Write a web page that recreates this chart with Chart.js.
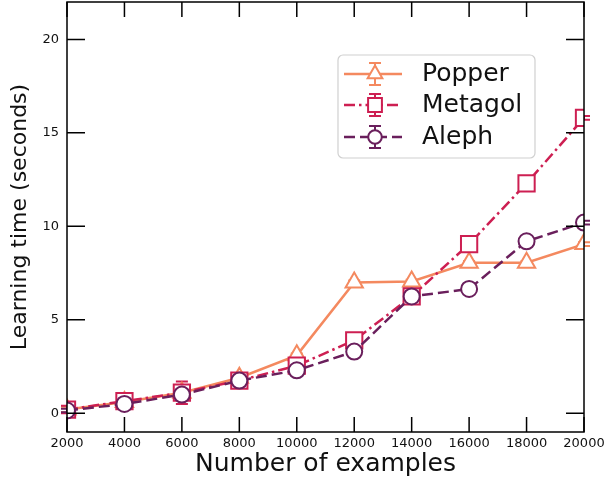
<!DOCTYPE html>
<html>
<head>
<meta charset="utf-8">
<script src="https://cdn.jsdelivr.net/npm/chart.js@4.4.1/dist/chart.umd.min.js"></script>
<style>
  html, body { margin: 0; padding: 0; background: #fff; }
  canvas { display: block; }
</style>
</head>
<body>
<canvas id="chart" width="607" height="479"></canvas>
<script>
// data
const examples = [2000, 4000, 6000, 8000, 10000, 12000, 14000, 16000, 18000, 20000];
const popperTime = [0.2, 0.6, 1.1, 1.9, 3.1, 7.0, 7.05, 8.05, 8.05, 9.05];
const metagolTime = [0.2, 0.65, 1.1, 1.75, 2.55, 3.9, 6.25, 9.05, 12.3, 15.8];
const alephTime = [0.15, 0.5, 1.0, 1.75, 2.3, 3.3, 6.25, 6.65, 9.2, 10.2];
const popperErr = [0.15, 0.1, 0.15, 0.1, 0.1, 0.1, 0.1, 0.1, 0.1, 0.1];
const metagolErr = [0.2, 0.2, 0.6, 0.15, 0.1, 0.1, 0.1, 0.1, 0.1, 0.1];
const alephErr = [0.1, 0.1, 0.1, 0.1, 0.1, 0.1, 0.1, 0.1, 0.1, 0.1];
const yTicks = [0, 5, 10, 15, 20];

const FONT = "'DejaVu Sans', sans-serif";

const series = [
  { label: 'Popper', y: popperTime, err: popperErr, color: '#f4895f', style: 'triangle', r: 10, dash: [], order: 3 },
  { label: 'Metagol', y: metagolTime, err: metagolErr, color: '#cd1f52', style: 'rect', r: 11.5, dash: [11, 4, 2.5, 4], order: 2 },
  { label: 'Aleph', y: alephTime, err: alephErr, color: '#6a1f5c', style: 'circle', r: 8, dash: [11, 5], order: 1 }
];

function marker(ctx, style, x, y, r) {
  ctx.beginPath();
  if (style === 'circle') {
    ctx.arc(x, y, r, 0, Math.PI * 2);
  } else if (style === 'rect') {
    const s = Math.SQRT1_2 * r;
    ctx.rect(x - s, y - s, 2 * s, 2 * s);
  } else {
    ctx.moveTo(x, y - r);
    ctx.lineTo(x + r * 0.866, y + r * 0.5);
    ctx.lineTo(x - r * 0.866, y + r * 0.5);
    ctx.closePath();
  }
  ctx.fillStyle = '#fff';
  ctx.fill();
  ctx.stroke();
}

const errorBars = {
  id: 'errorBars',
  beforeDatasetsDraw(chart) {
    const { ctx, scales: { x, y } } = chart;
    ctx.save();
    ctx.lineWidth = 2;
    series.slice().sort((a, b) => b.order - a.order).forEach(s => {
      ctx.strokeStyle = s.color;
      examples.forEach((ex, i) => {
        const px = x.getPixelForValue(ex);
        const top = y.getPixelForValue(s.y[i] + s.err[i]);
        const bot = y.getPixelForValue(s.y[i] - s.err[i]);
        ctx.beginPath();
        ctx.moveTo(px, top); ctx.lineTo(px, bot);
        ctx.moveTo(px - 6, top); ctx.lineTo(px + 6, top);
        ctx.moveTo(px - 6, bot); ctx.lineTo(px + 6, bot);
        ctx.stroke();
      });
    });
    ctx.restore();
  }
};

const frame = {
  id: 'frame',
  afterDraw(chart) {
    const { ctx, chartArea: a, scales: { x, y } } = chart;
    ctx.save();
    ctx.strokeStyle = '#000';
    ctx.lineWidth = 1.5;
    ctx.beginPath();
    x.ticks.forEach(t => {
      const px = x.getPixelForValue(t.value);
      ctx.moveTo(px, a.bottom); ctx.lineTo(px, a.bottom - 15);
      ctx.moveTo(px, a.top); ctx.lineTo(px, a.top + 15);
    });
    y.ticks.forEach(t => {
      const py = y.getPixelForValue(t.value);
      ctx.moveTo(a.left, py); ctx.lineTo(a.left + 18, py);
      ctx.moveTo(a.right, py); ctx.lineTo(a.right - 18, py);
    });
    ctx.stroke();
    ctx.strokeRect(a.left, a.top, a.right - a.left, a.bottom - a.top);

    // legend
    const lx = 338, ly = 55, lw = 197, lh = 103;
    ctx.beginPath();
    ctx.roundRect(lx, ly, lw, lh, 5);
    ctx.fillStyle = 'rgba(255,255,255,0.85)';
    ctx.fill();
    ctx.strokeStyle = '#d0d0d0';
    ctx.lineWidth = 1.2;
    ctx.stroke();
    const rows = [74, 105, 137];
    series.forEach((s, i) => {
      const cy = rows[i];
      ctx.strokeStyle = s.color;
      ctx.lineWidth = 2.5;
      ctx.setLineDash(s.dash);
      ctx.beginPath();
      ctx.moveTo(344, cy); ctx.lineTo(402, cy);
      ctx.stroke();
      ctx.setLineDash([]);
      ctx.lineWidth = 2;
      ctx.beginPath();
      ctx.moveTo(375, cy - 11); ctx.lineTo(375, cy + 11);
      ctx.moveTo(369, cy - 11); ctx.lineTo(381, cy - 11);
      ctx.moveTo(369, cy + 11); ctx.lineTo(381, cy + 11);
      ctx.stroke();
      marker(ctx, s.style, 375, cy, s.r * 0.85);
      ctx.fillStyle = '#111';
      ctx.font = '25px ' + FONT;
      ctx.textBaseline = 'middle';
      ctx.textAlign = 'left';
      ctx.fillText(s.label, 422, cy);
    });
    ctx.restore();
  }
};

new Chart(document.getElementById('chart'), {
  type: 'line',
  data: {
    datasets: series.map(s => ({
      label: s.label,
      data: examples.map((ex, i) => ({ x: ex, y: s.y[i] })),
      borderColor: s.color,
      borderWidth: 2.5,
      borderDash: s.dash,
      pointStyle: s.style,
      pointRadius: s.r,
      pointBorderWidth: 2,
      pointBorderColor: s.color,
      pointBackgroundColor: '#fff',
      tension: 0,
      fill: false,
      order: s.order
    }))
  },
  options: {
    responsive: false,
    animation: false,
    devicePixelRatio: 1,
    layout: { autoPadding: false, padding: { top: 2, right: 23, left: 0, bottom: 0 } },
    plugins: {
      legend: { display: false },
      tooltip: { enabled: false }
    },
    scales: {
      x: {
        type: 'linear',
        min: 2000,
        max: 20000,
        grid: { display: false, drawTicks: false },
        border: { display: false },
        ticks: {
          stepSize: 2000,
          autoSkip: false,
          maxRotation: 0,
          padding: 4,
          color: '#111',
          font: { family: FONT, size: 13 },
          callback: v => String(v)
        },
        title: {
          display: true,
          text: 'Number of examples',
          color: '#111',
          font: { family: FONT, size: 25 },
          padding: { top: 0, bottom: 0 }
        },
        afterFit: s => { s.height = 47; s.paddingLeft = 0; s.paddingRight = 0; }
      },
      y: {
        min: -1,
        max: 22,
        grid: { display: false, drawTicks: false },
        border: { display: false },
        afterBuildTicks: s => { s.ticks = yTicks.map(v => ({ value: v })); },
        ticks: {
          padding: 8,
          color: '#111',
          font: { family: FONT, size: 13 }
        },
        title: {
          display: true,
          text: 'Learning time (seconds)',
          color: '#111',
          font: { family: FONT, size: 22 },
          padding: { top: 7, bottom: 0 }
        },
        afterFit: s => { s.width = 67; s.paddingTop = 0; s.paddingBottom = 0; }
      }
    }
  },
  plugins: [errorBars, frame]
});
</script>
</body>
</html>
